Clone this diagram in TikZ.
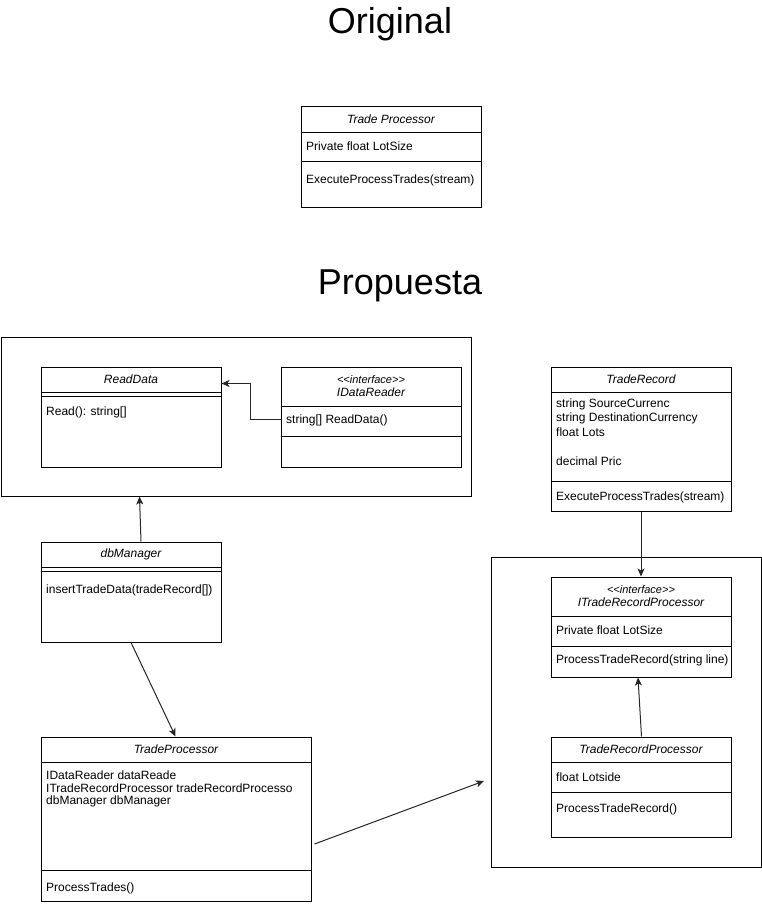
\documentclass[tikz,border=0pt]{standalone}
\usepackage{fontspec}
\setmainfont{Liberation Sans}
\usetikzlibrary{arrows.meta, calc, positioning}
\newcommand{\stereotype}{{\fontsize{11}{12}\selectfont\itshape <\kern0pt<interface>\kern0pt>}}

\begin{document}
\begin{tikzpicture}[
x=1pt, y=-1pt,
texts/.style = {text=black, inner sep=0pt},
titletexts/.style = {texts, font=\fontsize{36}{40}\selectfont, anchor=base},
nametexts/.style = {texts, font=\fontsize{12}{14}\selectfont\itshape, align=center},
membertexts/.style = {texts, font=\fontsize{12}{14.4}\selectfont, align=left, anchor=west},
classline/.style = {draw=black, line width=1pt},
classbox/.style = {classline, rectangle, anchor=north west, inner sep=0pt, minimum width=180, minimum height=100},
groupbox/.style = {classbox},
relation/.style = {draw=black!85, line width=1pt, -{Stealth[length=8pt, width=7pt, inset=2pt]}}
]
\useasboundingbox (0,0) rectangle (761,904);

% Original
\node[titletexts] (origtitle) at (390,34) {Original};
\node[classbox] (tporig) at (300.5,106.5) {};
\node[nametexts] at ($(tporig.north)+(0,13)$) {Trade Processor};
\draw[classline] ($(tporig.north west)+(0,26)$) -- ($(tporig.north east)+(0,26)$);
\draw[classline] ($(tporig.north west)+(0,55)$) -- ($(tporig.north east)+(0,55)$);
\node[membertexts] at (306,146) {Private float LotSize};
\node[membertexts] at (306,180) {ExecuteProcessTrades(stream)};

% Propuesta
\node[titletexts] (proptitle) at (400,294) {Propuesta};

% left group
\node[groupbox, minimum width=470, minimum height=159] (readgroup) at (0.5,336.5) {};
\node[classbox] (rd) at (40.5,366.5) {};
\node[nametexts] at ($(rd.north)+(0,13)$) {ReadData};
\draw[classline] ($(rd.north west)+(0,26)$) -- ($(rd.north east)+(0,26)$);
\draw[classline] ($(rd.north west)+(0,30)$) -- ($(rd.north east)+(0,30)$);
\node[membertexts] at (46,412) {Read(): string[]};

\node[classbox] (idr) at (280.5,366.5) {};
\node[nametexts] at ($(idr.north)+(0,20)$) {\stereotype\\[-1pt]IDataReader};
\draw[classline] ($(idr.north west)+(0,40)$) -- ($(idr.north east)+(0,40)$);
\draw[classline] ($(idr.north west)+(0,70)$) -- ($(idr.north east)+(0,70)$);
\node[membertexts] at (286,420) {string[] ReadData()};

\node[classbox] (dbm) at (40.5,541.5) {};
\node[nametexts] at ($(dbm.north)+(0,13)$) {dbManager};
\draw[classline] ($(dbm.north west)+(0,26)$) -- ($(dbm.north east)+(0,26)$);
\draw[classline] ($(dbm.north west)+(0,30)$) -- ($(dbm.north east)+(0,30)$);
\node[membertexts] at (46,590) {insertTradeData(tradeRecord[])};

\node[classbox, minimum width=270, minimum height=164] (tp) at (40.5,736.5) {};
\node[nametexts] at ($(tp.north)+(0,13)$) {TradeProcessor};
\draw[classline] ($(tp.north west)+(0,26)$) -- ($(tp.north east)+(0,26)$);
\draw[classline] ($(tp.north west)+(0,134)$) -- ($(tp.north east)+(0,134)$);
\node[membertexts, font=\fontsize{12}{12.6}\selectfont] at (46,789) {IDataReader dataReade\\ITradeRecordProcessor tradeRecordProcesso\\dbManager dbManager};
\node[membertexts] at (46,888) {ProcessTrades()};

% right side
\node[classbox, minimum height=144] (tr) at (550.5,366.5) {};
\node[nametexts] at ($(tr.north)+(0,13)$) {TradeRecord};
\draw[classline] ($(tr.north west)+(0,26)$) -- ($(tr.north east)+(0,26)$);
\draw[classline] ($(tr.north west)+(0,115)$) -- ($(tr.north east)+(0,115)$);
\node[membertexts] at (556,432) {string SourceCurrenc\\string DestinationCurrency\\float Lots\\[14.4pt]decimal Pric};
\node[membertexts] at (556,497) {ExecuteProcessTrades(stream)};

\node[groupbox, minimum width=270, minimum height=310] (recgroup) at (490.5,556.5) {};
\node[classbox] (itrp) at (550.5,576.5) {};
\node[nametexts] at ($(itrp.north)+(0,20)$) {\stereotype\\[-1pt]ITradeRecordProcessor};
\draw[classline] ($(itrp.north west)+(0,40)$) -- ($(itrp.north east)+(0,40)$);
\draw[classline] ($(itrp.north west)+(0,70)$) -- ($(itrp.north east)+(0,70)$);
\node[membertexts] at (556,630) {Private float LotSize};
\node[membertexts] at (556,660) {ProcessTradeRecord(string line)};

\node[classbox] (trp) at (550.5,736.5) {};
\node[nametexts] at ($(trp.north)+(0,13)$) {TradeRecordProcessor};
\draw[classline] ($(trp.north west)+(0,26)$) -- ($(trp.north east)+(0,26)$);
\draw[classline] ($(trp.north west)+(0,56)$) -- ($(trp.north east)+(0,56)$);
\node[membertexts] at (556,777) {float Lotside};
\node[membertexts] at (556,809) {ProcessTradeRecord()};

% relations
\draw[relation] ($(idr.north west)+(0,53)$) -- ++(-30,0) |- ($(rd.north east)+(0,17)$);
\draw[relation] ($(dbm.north)+(10,0)$) -- ($(readgroup.south west)+(139,0)$);
\draw[relation] (dbm.south) -- ($(tp.north west)+(135,0)$);
\draw[relation] ($(tp.east)+(3,25)$) -- ($(recgroup.west)+(-6.5,69)$);
\draw[relation] (tr.south) -- (itrp.north);
\draw[relation] ($(trp.north)+(0.5,0)$) -- ($(itrp.south)+(-3,0)$);
\end{tikzpicture}
\end{document}
